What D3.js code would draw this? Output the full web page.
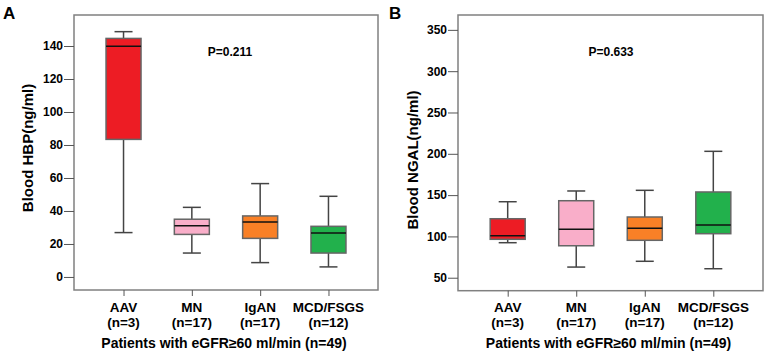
<!DOCTYPE html>
<html>
<head>
<meta charset="utf-8">
<script src="https://cdn.jsdelivr.net/npm/d3@7"></script>
<style>
  body { margin: 0; background: #fff; }
  text { font-family: "Liberation Sans", Arial, sans-serif; font-weight: bold; fill: #000; }
</style>
</head>
<body>
<div id="chart"></div>
<script>
// categories and group sizes
var categories = ["AAV", "MN", "IgAN", "MCD/FSGS"];
var groupSizes = ["(n=3)", "(n=17)", "(n=17)", "(n=12)"];
var boxColors = ["#ed1c24", "#f9aec9", "#f98026", "#22b14c"];

// Blood HBP (ng/ml) box statistics
var hbpMin    = [26.9, 14.5, 8.7, 6.1];
var hbpQ1     = [83.4, 25.8, 23.4, 14.5];
var hbpMedian = [139.8, 31.1, 33.3, 26.7];
var hbpQ3     = [144.6, 35.0, 37.0, 30.7];
var hbpMax    = [148.7, 42.2, 56.6, 48.9];
var hbpTicks  = [0, 20, 40, 60, 80, 100, 120, 140];

// Blood NGAL (ng/ml) box statistics
var ngalMin    = [92.4, 62.9, 69.9, 60.9];
var ngalQ1     = [96.5, 88.7, 95.3, 103.3];
var ngalMedian = [100.8, 108.6, 109.8, 113.8];
var ngalQ3     = [121.4, 143.2, 123.5, 153.8];
var ngalMax    = [142.0, 155.0, 155.8, 203.0];
var ngalTicks  = [50, 100, 150, 200, 250, 300, 350];

var svg = d3.select("#chart").append("svg")
  .attr("width", 767)
  .attr("height", 355);

function drawPanel(opts) {
  var x = d3.scalePoint().domain(categories)
    .range([opts.left, opts.right]).padding(0.725);
  var y = d3.scaleLinear().domain(opts.domain)
    .range([opts.bottom, opts.top]);

  var g = svg.append("g");

  // plot frame
  g.append("rect")
    .attr("x", opts.left).attr("y", opts.top)
    .attr("width", opts.right - opts.left)
    .attr("height", opts.bottom - opts.top)
    .attr("fill", "none")
    .attr("stroke", "#808080")
    .attr("stroke-width", 1.5);

  // y axis
  var yAxis = g.append("g")
    .attr("transform", "translate(" + opts.left + ",0)")
    .call(d3.axisLeft(y).tickValues(opts.ticks).tickSize(10).tickPadding(1));
  yAxis.select(".domain").remove();
  yAxis.selectAll("line").attr("stroke", "#555");
  yAxis.selectAll("text").style("font-size", "12px").attr("fill", "#000");

  // x axis ticks + two-line labels
  var xAxis = g.append("g")
    .attr("transform", "translate(0," + opts.bottom + ")")
    .call(d3.axisBottom(x).tickSize(6).tickFormat(""));
  xAxis.select(".domain").remove();
  xAxis.selectAll("line").attr("stroke", "#555");

  categories.forEach(function(c, i) {
    g.append("text")
      .attr("x", x(c)).attr("y", 311.5)
      .attr("text-anchor", "middle")
      .style("font-size", "13.5px")
      .text(c);
    g.append("text")
      .attr("x", x(c)).attr("y", 327)
      .attr("text-anchor", "middle")
      .style("font-size", "13.5px")
      .text(groupSizes[i]);
  });

  g.append("text")
    .attr("x", (opts.left + opts.right) / 2 - 2).attr("y", 348)
    .attr("text-anchor", "middle")
    .style("font-size", "14px")
    .text("Patients with eGFR\u226560 ml/min (n=49)");

  // y title
  g.append("text")
    .attr("transform", "translate(" + opts.titleX + "," + opts.titleY + ") rotate(-90)")
    .attr("dy", "0.35em")
    .attr("text-anchor", "middle")
    .style("font-size", "15px")
    .text(opts.yTitle);

  // panel letter
  g.append("text")
    .attr("x", opts.letterX).attr("y", 19)
    .style("font-size", "17px")
    .text(opts.letter);

  // p value
  g.append("text")
    .attr("x", opts.pX).attr("y", 55.5)
    .attr("text-anchor", "middle")
    .style("font-size", "12px")
    .text(opts.pText);

  // boxes
  var boxW = 35, capW = 18;
  categories.forEach(function(c, i) {
    var cx = x(c);
    var b = g.append("g");
    // whisker stems
    b.append("line")
      .attr("x1", cx).attr("x2", cx)
      .attr("y1", y(opts.max[i])).attr("y2", y(opts.q3[i]))
      .attr("stroke", "#444").attr("stroke-width", 1.5);
    b.append("line")
      .attr("x1", cx).attr("x2", cx)
      .attr("y1", y(opts.q1[i])).attr("y2", y(opts.min[i]))
      .attr("stroke", "#444").attr("stroke-width", 1.5);
    // caps
    [opts.max[i], opts.min[i]].forEach(function(v) {
      b.append("line")
        .attr("x1", cx - capW / 2).attr("x2", cx + capW / 2)
        .attr("y1", y(v)).attr("y2", y(v))
        .attr("stroke", "#444").attr("stroke-width", 1.5);
    });
    // box
    b.append("rect")
      .attr("x", cx - boxW / 2)
      .attr("y", y(opts.q3[i]))
      .attr("width", boxW)
      .attr("height", y(opts.q1[i]) - y(opts.q3[i]))
      .attr("fill", boxColors[i])
      .attr("stroke", "#666")
      .attr("stroke-width", 1.5);
    // median
    b.append("line")
      .attr("x1", cx - boxW / 2).attr("x2", cx + boxW / 2)
      .attr("y1", y(opts.median[i])).attr("y2", y(opts.median[i]))
      .attr("stroke", "#111").attr("stroke-width", 1.5);
  });
}

drawPanel({
  left: 74, right: 378, top: 15, bottom: 290,
  domain: [-7.9, 158.8], ticks: hbpTicks,
  min: hbpMin, q1: hbpQ1, median: hbpMedian, q3: hbpQ3, max: hbpMax,
  yTitle: "Blood HBP(ng/ml)", titleX: 28, titleY: 148,
  letter: "A", letterX: 3,
  pText: "P=0.211", pX: 230
});

drawPanel({
  left: 458, right: 763, top: 15, bottom: 290.7,
  domain: [34.3, 368], ticks: ngalTicks,
  min: ngalMin, q1: ngalQ1, median: ngalMedian, q3: ngalQ3, max: ngalMax,
  yTitle: "Blood NGAL(ng/ml)", titleX: 413, titleY: 160,
  letter: "B", letterX: 389,
  pText: "P=0.633", pX: 611
});
</script>
</body>
</html>
